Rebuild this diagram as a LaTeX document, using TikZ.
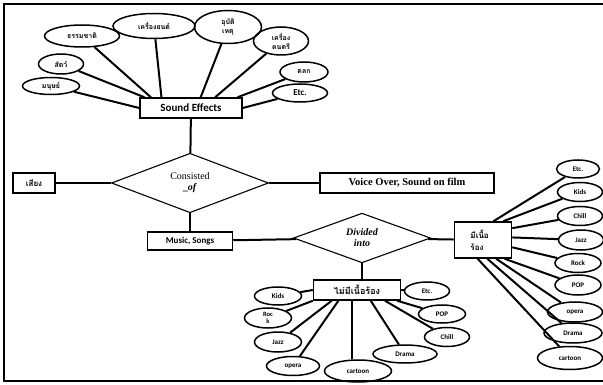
\documentclass[tikz,border=0pt]{standalone}
\usepackage{fontspec}
\setmainfont{Liberation Serif}
\newfontfamily\thaifont[Script=Thai]{Loma}
\newfontfamily\calfont{Carlito}
\usetikzlibrary{shapes.geometric}
\tikzset{
  ell/.style={draw, ellipse, line width=1.5pt, inner sep=0pt, align=center,
    font=\calfont\bfseries\fontsize{7}{8}\selectfont},
  thell/.style={ell, font=\thaifont\bfseries\fontsize{7}{9}\selectfont},
  ent/.style={draw, rectangle, line width=1.5pt, inner sep=0pt, align=center},
  rel/.style={draw, diamond, line width=1.1pt, inner sep=0pt, align=center,
    font=\bfseries\fontsize{10}{11}\selectfont},
  conn/.style={line width=2pt},
  frame/.style={line width=2.5pt}
}
\begin{document}
\begin{tikzpicture}[x=1pt,y=-1pt]
\useasboundingbox (0,0) rectangle (603,385);
\draw[frame] (603,4) -- (4,4) -- (4,381) -- (603,381);

% entities
\node[ent, minimum width=102pt, minimum height=20pt, font=\calfont\bfseries\fontsize{11}{12}\selectfont] (se) at (191,108) {Sound Effects};
\node[ent, minimum width=42pt, minimum height=20pt, font=\thaifont\bfseries\fontsize{8}{9}\selectfont] (sg) at (34,183) {เสียง};
\node[ent, minimum width=174pt, minimum height=20pt, font=\bfseries\fontsize{10.5}{12}\selectfont] (vo) at (407,183) {Voice Over, Sound on film};
\node[ent, minimum width=85pt, minimum height=18pt, font=\calfont\bfseries\fontsize{9}{10}\selectfont] (ms) at (190,241) {Music, Songs};
\node[ent, minimum width=57pt, minimum height=36pt, align=left, font=\thaifont\bfseries\fontsize{8}{12}\selectfont] (mn) at (483,240) {มีเนื้อ\\ร้อง\hspace*{12pt}};
\node[ent, minimum width=87pt, minimum height=20pt, font=\thaifont\bfseries\fontsize{9}{10}\selectfont] (nm) at (357,290) {ไม่มีเนื้อร้อง};

% relationships
\node[rel, minimum width=157pt, minimum height=55pt] (cons) at (190,183) {\mdseries Consisted\\\_\textit{\bfseries of}};
\node[rel, minimum width=137pt, minimum height=40pt, font=\bfseries\itshape\fontsize{10}{11}\selectfont] (div) at (362,238) {Divided\\into};

% sound effect attributes
\node[thell, minimum width=57pt, minimum height=17pt] (a1) at (51,86) {มนุษย์};
\node[thell, minimum width=45pt, minimum height=20pt] (a2) at (61,64) {สัตว์};
\node[thell, minimum width=75pt, minimum height=22pt] (a3) at (82,36) {ธรรมชาติ};
\node[thell, minimum width=82pt, minimum height=25pt] (a4) at (154,26) {เครื่องยนต์};
\node[thell, minimum width=67pt, minimum height=33pt] (a5) at (228,27) {อุบัติ\\เหตุ};
\node[thell, minimum width=55pt, minimum height=28pt] (a6) at (281,41) {เครื่อง\\ดนตรี};
\node[thell, minimum width=48pt, minimum height=20pt] (a7) at (304,72) {ตลก};
\node[ell, minimum width=55pt, minimum height=18pt, font=\calfont\bfseries\fontsize{9}{10}\selectfont] (a8) at (300,93) {Etc.};

% without lyrics
\node[ell, minimum width=47pt, minimum height=18pt] (b1) at (278,296) {Kids};
\node[ell, minimum width=47pt, minimum height=20pt, font=\calfont\bfseries\fontsize{6.5}{7}\selectfont] (b2) at (268,318) {Roc\\k};
\node[ell, minimum width=47pt, minimum height=20pt] (b3) at (278,342) {Jazz};
\node[ell, minimum width=53pt, minimum height=19pt] (b4) at (293,366) {opera};
\node[ell, minimum width=67pt, minimum height=22pt] (b5) at (358,371) {cartoon};
\node[ell, minimum width=64pt, minimum height=18pt] (b6) at (405,354) {Drama};
\node[ell, minimum width=45pt, minimum height=19pt] (b7) at (447,337) {Chill};
\node[ell, minimum width=47pt, minimum height=18pt] (b8) at (442,314) {POP};
\node[ell, minimum width=45pt, minimum height=18pt] (b9) at (427,291) {Etc.};

% with lyrics
\node[ell, minimum width=43pt, minimum height=18pt] (c1) at (578,169) {Etc.};
\node[ell, minimum width=45pt, minimum height=19pt] (c2) at (580,192) {Kids};
\node[ell, minimum width=45pt, minimum height=19pt] (c3) at (580,216) {Chill};
\node[ell, minimum width=45pt, minimum height=20pt] (c4) at (581,240) {Jazz};
\node[ell, minimum width=46pt, minimum height=19pt] (c5) at (578,263) {Rock};
\node[ell, minimum width=46pt, minimum height=20pt] (c6) at (578,285) {POP};
\node[ell, minimum width=55pt, minimum height=20pt] (c7) at (575,312) {opera};
\node[ell, minimum width=58pt, minimum height=20pt] (c8) at (573,333) {Drama};
\node[ell, minimum width=65pt, minimum height=23pt] (c9) at (570,358) {cartoon};

% main connectors
\draw[conn] (se) -- (cons);
\draw[conn] (sg) -- (cons);
\draw[conn] (cons) -- (vo);
\draw[conn] (cons) -- (ms);
\draw[conn] (ms) -- (div);
\draw[conn] (div) -- (mn);
\draw[conn] (div.south) -- (nm.north -| div.south);

% sound effects attributes
\draw[conn] (a1) -- (se.west);
\draw[conn] (a2) -- (se.167);
\draw[conn] (a3) -- (se.165);
\draw[conn] (a4) -- (se.160);
\draw[conn] (a5) -- (se.48);
\draw[conn] (a6) -- (se.24);
\draw[conn] (a7) -- (se.13);
\draw[conn] (a8) -- (se.east);

% without lyrics
\draw[conn] (b1) -- (nm.west);
\draw[conn] (b2) -- (nm.south west);
\draw[conn] (b3) -- (nm.203);
\draw[conn] (b4) -- (nm.210);
\draw[conn] (b5.north -| nm.243) -- (nm.243);
\draw[conn] (b6) -- (nm.322);
\draw[conn] (b7) -- (nm.339);
\draw[conn] (b8) -- (nm.345);
\draw[conn] (b9) -- (nm.east);

% with lyrics
\draw[conn] (c1) -- (mn.61);
\draw[conn] (c2) -- (mn.43);
\draw[conn] (c3) -- (mn.22);
\draw[conn] (c4) -- (mn.5);
\draw[conn] (c5) -- (mn.-14);
\draw[conn] (c6) -- (mn.-41);
\draw[conn] (c7) -- (mn.-55);
\draw[conn] (c8) -- (mn.-77);
\draw[conn] (c9) -- (mn.-106);
\end{tikzpicture}
\end{document}
